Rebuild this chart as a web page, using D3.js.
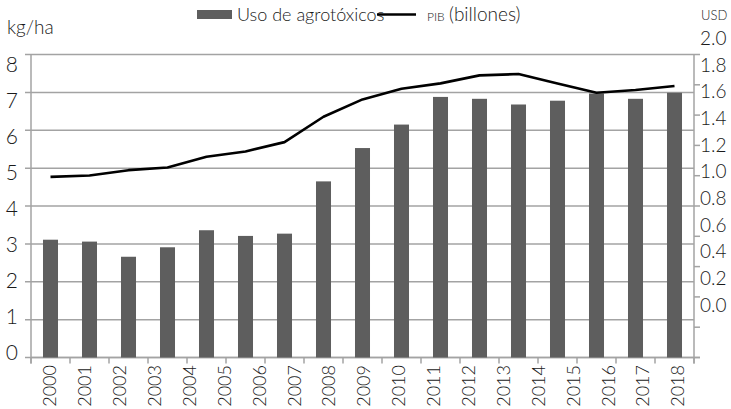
<!DOCTYPE html>
<html>
<head>
<meta charset="utf-8">
<script src="https://cdn.jsdelivr.net/npm/d3@7/dist/d3.min.js"></script>
<style>
  html, body { margin: 0; padding: 0; background: #fff; }
  svg { display: block; }
  text { font-family: Lato, "Open Sans", sans-serif; font-weight: 300; fill: #1a1a1a; }
</style>
</head>
<body>
<svg id="chart" width="731" height="409"></svg>
<script>
// ---- data ----
const yearLabels = ["2000","2001","2002","2003","2004","2005","2006","2007","2008","2009",
                    "2010","2011","2012","2013","2014","2015","2016","2017","2018"];
const usoAgrotoxicos = [3.11, 3.06, 2.66, 2.91, 3.36, 3.21, 3.27, 4.65, 5.53, 6.15,
                        6.88, 6.83, 6.68, 6.78, 6.97, 6.83, 6.99];
const pibBillones = [0.96, 0.97, 1.01, 1.03, 1.11, 1.15, 1.22, 1.41, 1.54, 1.62,
                     1.66, 1.72, 1.73, 1.66, 1.59, 1.61, 1.64];
const leftTicks = [0, 1, 2, 3, 4, 5, 6, 7, 8];
const rightTicks = [0, 0.2, 0.4, 0.6, 0.8, 1.0, 1.2, 1.4, 1.6, 1.8, 2.0];
const legendLabels = ["Uso de agrotóxicos", "PIB", "(billones)"];

// ---- layout ----
const svg = d3.select("#chart");
const plotL = 31, plotR = 694, plotT = 54.5, plotB = 357.5;
const gridColor = "#a3a3a3";

const x = d3.scaleBand()
  .domain(d3.range(usoAgrotoxicos.length))
  .range([plotL, plotR])
  .paddingInner(0.615)
  .paddingOuter(0.3075);
const xLabel = d3.scalePoint().domain(yearLabels).range([50, 678]);

const yL = d3.scaleLinear().domain([0, 8]).range([plotB, plotT]);
const yLLabel = d3.scaleLinear().domain([0, 8]).range([352, 64]);
const yRTick = d3.scaleLinear().domain([0, 2]).range([plotB, plotT]);
const yR = d3.scaleLinear().domain([0, 2]).range([305, 38]);

// gridlines
svg.append("g").selectAll("line").data(leftTicks).join("line")
  .attr("x1", plotL - 6).attr("x2", plotR)
  .attr("y1", d => yL(d)).attr("y2", d => yL(d))
  .attr("stroke", gridColor).attr("stroke-width", 1.5);

// axis lines
svg.append("line").attr("x1", plotL).attr("x2", plotL)
  .attr("y1", plotT).attr("y2", plotB + 6)
  .attr("stroke", gridColor).attr("stroke-width", 1.5);
svg.append("line").attr("x1", plotR).attr("x2", plotR)
  .attr("y1", plotT).attr("y2", plotB + 6)
  .attr("stroke", gridColor).attr("stroke-width", 1.5);
svg.append("line").attr("x1", plotL).attr("x2", plotR + 6)
  .attr("y1", plotB).attr("y2", plotB)
  .attr("stroke", gridColor).attr("stroke-width", 1.5);

// bottom tick marks at category boundaries
const boundaries = d3.range(usoAgrotoxicos.length + 1).map(i => plotL + i * x.step());
svg.append("g").selectAll("line").data(boundaries).join("line")
  .attr("x1", d => d).attr("x2", d => d)
  .attr("y1", plotB).attr("y2", plotB + 6)
  .attr("stroke", gridColor).attr("stroke-width", 1.5);

// right tick marks
svg.append("g").selectAll("line").data(rightTicks).join("line")
  .attr("x1", plotR).attr("x2", plotR + 6)
  .attr("y1", d => yRTick(d)).attr("y2", d => yRTick(d))
  .attr("stroke", gridColor).attr("stroke-width", 1.5);

// bars
svg.append("g").selectAll("rect").data(usoAgrotoxicos).join("rect")
  .attr("x", (d, i) => x(i))
  .attr("width", x.bandwidth())
  .attr("y", d => yL(d))
  .attr("height", d => yL(0) - yL(d))
  .attr("fill", "#5e5e5e");

// line
const line = d3.line()
  .x((d, i) => x(i) + x.bandwidth() / 2)
  .y(d => yR(d));
svg.append("path").datum(pibBillones)
  .attr("d", line)
  .attr("fill", "none")
  .attr("stroke", "#000")
  .attr("stroke-width", 2.6)
  .attr("stroke-linejoin", "round");

// left labels
svg.append("g").selectAll("text").data(leftTicks).join("text")
  .attr("x", 18).attr("y", d => yLLabel(d))
  .attr("dy", "0.36em")
  .attr("text-anchor", "end")
  .style("font-size", "21px")
  .text(d => d);

// right labels
svg.append("g").selectAll("text").data(rightTicks).join("text")
  .attr("x", 700).attr("y", d => yR(d))
  .attr("dy", "0.36em")
  .style("font-size", "19px")
  .text(d => d.toFixed(1));

// x labels
svg.append("g").selectAll("text").data(yearLabels).join("text")
  .attr("transform", d => `translate(${xLabel(d)},365) rotate(-90)`)
  .attr("dy", "0.35em")
  .attr("text-anchor", "end")
  .style("font-size", "18px")
  .text(d => d);

// axis titles
svg.append("text").attr("x", 7).attr("y", 34).style("font-size", "19px").text("kg/ha");
svg.append("text").attr("x", 701).attr("y", 20).style("font-size", "13px").text("USD");

// legend
svg.append("rect").attr("x", 197).attr("y", 10).attr("width", 35).attr("height", 9).attr("fill", "#5e5e5e");
svg.append("text").attr("x", 237).attr("y", 21).style("font-size", "18px").text(legendLabels[0]);
svg.append("line").attr("x1", 377).attr("x2", 416).attr("y1", 14.5).attr("y2", 14.5)
  .attr("stroke", "#000").attr("stroke-width", 2.6);
svg.append("text").attr("x", 427).attr("y", 21).style("font-size", "12px").text(legendLabels[1]);
svg.append("text").attr("x", 449).attr("y", 21).style("font-size", "19px").text(legendLabels[2]);
</script>
</body>
</html>
